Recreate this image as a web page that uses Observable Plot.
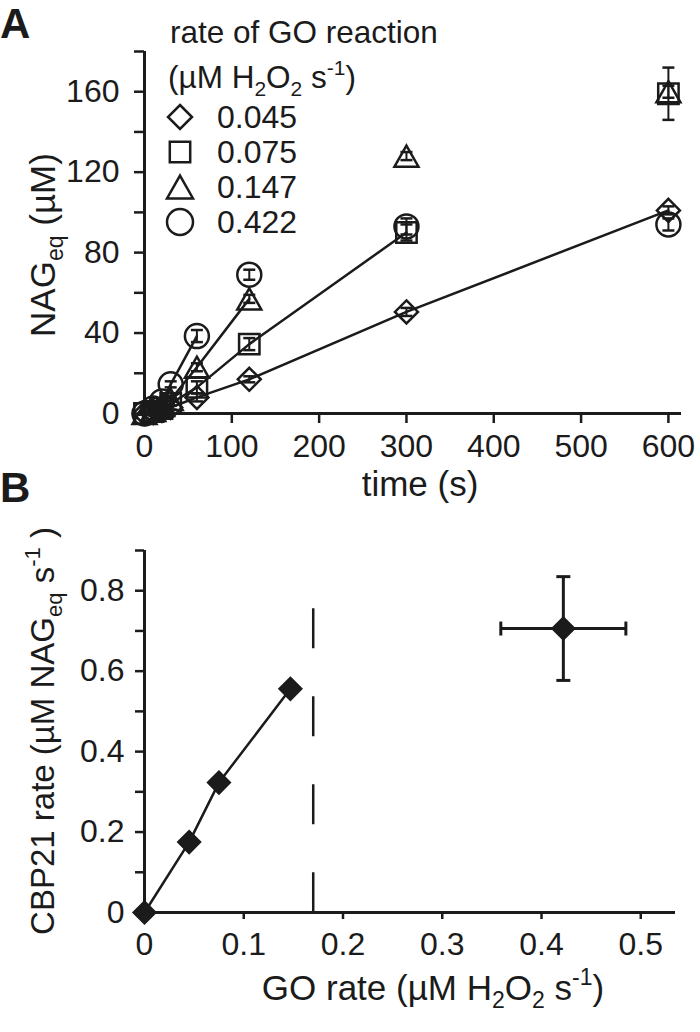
<!DOCTYPE html>
<html><head><meta charset="utf-8">
<script src="https://cdn.jsdelivr.net/npm/d3@7"></script>
<script src="https://cdn.jsdelivr.net/npm/@observablehq/plot@0.6"></script>
<style>
body{margin:0;background:#fff;}
#fig{position:relative;width:700px;height:1032px;font-family:"Liberation Sans",Arial,sans-serif;}
#fig svg{position:absolute;left:0;}
</style></head><body><div id="fig"></div>
<script>
// ---------- Panel A data ----------
const times   = [0, 10, 20, 30, 60, 120, 300, 600];
const goRates = ["0.045", "0.075", "0.147", "0.422"];
const nag045 = [0, 0.5, 1.5, 3, 8, 17, 50.5, 101];
const nag075 = [0, 1, 2.5, 5, 13, 34.5, 90, 159];
const nag147 = [0, 1.5, 4, 7, 23, 57, 128, 160];
const nag422 = [0, 2.5, 6, 14.5, 38.5, 69, 93, 94];
const err045 = [0.5, 0.5, 0.5, 1, 2, 1.5, 2, 2];
const err075 = [0.5, 0.5, 1, 1, 3, 3, 4, 13];
const err147 = [0.5, 0.5, 1, 1, 2, 2, 2, 3];
const err422 = [0.5, 1, 1, 1.5, 3, 2.5, 4, 3];
const fitEnd = [600, 300, 120, 60];   // last time point joined by the line
const yTicksA = [0, 20, 40, 60, 80, 100, 120, 140, 160, 180];
const xTicksA = [0, 100, 200, 300, 400, 500, 600];

// ---------- Panel B data ----------
const goRate  = [0, 0.045, 0.075, 0.147, 0.422];
const cbpRate = [0, 0.175, 0.323, 0.556, 0.706];
const cbpErr  = [0, 0, 0, 0, 0.129];
const goErr   = [0, 0, 0, 0, 0.063];
const fitCount = 4;          // first points joined by the line
const limitGo = 0.17;        // dashed line position
const limitTop = 0.755;
const yTicksB = [0, 1, 2, 3, 4, 5, 6, 7, 8, 9].map(i => i / 10);
const xTicksB = [0, 1, 2, 3, 4, 5].map(i => i / 10);

// ---------- symbols ----------
const rOf = s => Math.sqrt(s / Math.PI);
const symDiamond = {draw(c, s){const r=rOf(s); c.moveTo(0,-r); c.lineTo(r,0); c.lineTo(0,r); c.lineTo(-r,0); c.closePath();}};
const symSquare  = {draw(c, s){const r=rOf(s)*0.85; c.rect(-r,-r,2*r,2*r);}};
const symTriangle= {draw(c, s){const r=rOf(s), h=r*0.88; c.moveTo(0,-h); c.lineTo(r,h); c.lineTo(-r,h); c.closePath();}};
const symCircle  = {draw(c, s){const r=rOf(s); c.moveTo(r,0); c.arc(0,0,r,0,2*Math.PI);}};
const capH = {draw(c, s){const r=rOf(s); c.moveTo(-r,0); c.lineTo(r,0);}};
const capV = {draw(c, s){const r=rOf(s); c.moveTo(0,-r); c.lineTo(0,r);}};
const symbols = [symDiamond, symSquare, symTriangle, symCircle];
const symR = [11.5, 12, 12, 12];
const INK = "#1b1b1b";
const FONT = "'Liberation Sans', Arial, Helvetica, sans-serif";
const TICKFS = 32, TITLEFS = 35;

const seriesVals = [nag045, nag075, nag147, nag422];
const seriesErr  = [err045, err075, err147, err422];

const marksA = [];
seriesVals.forEach((vals, i) => {
  const rows = times.map((t, j) => ({t, v: vals[j], e: seriesErr[i][j]}));
  marksA.push(Plot.line(rows.filter(d => d.t <= fitEnd[i]), {x: "t", y: "v", stroke: INK, strokeWidth: 2.5}));
  marksA.push(Plot.ruleX(rows, {x: "t", y1: d => d.v - d.e, y2: d => d.v + d.e, stroke: INK, strokeWidth: 2}));
  marksA.push(Plot.dot(rows, {x: "t", y: d => d.v - d.e, symbol: capH, r: 6, stroke: INK, strokeWidth: 2.5}));
  marksA.push(Plot.dot(rows, {x: "t", y: d => d.v + d.e, symbol: capH, r: 6, stroke: INK, strokeWidth: 2.5}));
  marksA.push(Plot.dot(rows, {x: "t", y: "v", symbol: symbols[i], r: symR[i], stroke: INK, strokeWidth: 2.5, fill: "none"}));
});

const plotA = Plot.plot({
  width: 700, height: 505,
  marginLeft: 144, marginRight: 19, marginTop: 51, marginBottom: 92,
  x: {domain: [0, 615]},
  y: {domain: [0, 180]},
  style: {fontFamily: FONT, fontSize: TICKFS + "px", background: "transparent", overflow: "visible", color: INK},
  marks: [
    Plot.axisY({ticks: yTicksA, tickSize: 10, tickPadding: 15, strokeWidth: 2.5, fontSize: TICKFS,
      tickFormat: d => d % 40 === 0 ? String(d) : "", label: null}),
    Plot.axisX({ticks: xTicksA, tickSize: 10, tickPadding: 11, strokeWidth: 2.5, fontSize: TICKFS,
      tickFormat: d => String(d), label: null}),
    Plot.ruleX([0], {y1: 0, y2: 180, stroke: INK, strokeWidth: 3}),
    Plot.ruleY([0], {x1: 0, x2: 615, stroke: INK, strokeWidth: 3}),
    ...marksA
  ]
});
plotA.style.top = "0px";

// ---------- Panel B ----------
const rowsB = goRate.map((g, i) => ({g, c: cbpRate[i], ce: cbpErr[i], ge: goErr[i]}));
const errRows = rowsB.filter(d => d.ce > 0 || d.ge > 0);
const plotB = Plot.plot({
  width: 700, height: 552,
  marginLeft: 144, marginRight: 25, marginTop: 70, marginBottom: 120,
  x: {domain: [0, 0.535]},
  y: {domain: [0, 0.9]},
  style: {fontFamily: FONT, fontSize: TICKFS + "px", background: "transparent", overflow: "visible", color: INK},
  marks: [
    Plot.axisY({ticks: yTicksB, tickSize: 9, tickPadding: 11, strokeWidth: 2.5, fontSize: TICKFS,
      tickFormat: d => Math.round(d * 10) % 2 ? "" : (d === 0 ? "0" : d.toFixed(1)), label: null}),
    Plot.axisX({ticks: xTicksB, tickSize: 7, tickPadding: 13, strokeWidth: 2.5, fontSize: TICKFS,
      tickFormat: d => d === 0 ? "0" : d.toFixed(1), label: null}),
    Plot.ruleX([0], {y1: 0, y2: 0.9, stroke: INK, strokeWidth: 3}),
    Plot.ruleY([0], {x1: 0, x2: 0.535, stroke: INK, strokeWidth: 3}),
    Plot.ruleX([limitGo], {y1: limitTop, y2: 0, stroke: INK, strokeWidth: 2.5, strokeDasharray: "40,48"}),
    Plot.line(rowsB.slice(0, fitCount), {x: "g", y: "c", stroke: INK, strokeWidth: 2.5}),
    Plot.ruleX(errRows, {x: "g", y1: d => d.c - d.ce, y2: d => d.c + d.ce, stroke: INK, strokeWidth: 3}),
    Plot.ruleY(errRows, {y: "c", x1: d => d.g - d.ge, x2: d => d.g + d.ge, stroke: INK, strokeWidth: 3}),
    Plot.dot(errRows, {x: "g", y: d => d.c - d.ce, symbol: capH, r: 7, stroke: INK, strokeWidth: 3}),
    Plot.dot(errRows, {x: "g", y: d => d.c + d.ce, symbol: capH, r: 7, stroke: INK, strokeWidth: 3}),
    Plot.dot(errRows, {x: d => d.g - d.ge, y: "c", symbol: capV, r: 7, stroke: INK, strokeWidth: 3}),
    Plot.dot(errRows, {x: d => d.g + d.ge, y: "c", symbol: capV, r: 7, stroke: INK, strokeWidth: 3}),
    Plot.dot(rowsB, {x: "g", y: "c", symbol: symDiamond, r: 11.5, fill: INK, stroke: INK, strokeWidth: 1.5})
  ]
});
plotB.style.top = "480px";

const fig = document.getElementById("fig");
fig.appendChild(plotA);
fig.appendChild(plotB);

// ---------- rich text helpers ----------
function rich(sel, parts, size) {
  let shift = 0;
  parts.forEach(([txt, kind]) => {
    const target = kind === "sub" ? Math.round(size * 0.24) : kind === "sup" ? -Math.round(size * 0.42) : 0;
    const ts = sel.append("tspan").text(txt).attr("dy", target - shift);
    if (kind) ts.attr("font-size", Math.round(size * 0.66));
    shift = target;
  });
  return sel;
}
function addText(svg, x, y, parts, opts = {}) {
  const size = opts.size || TICKFS;
  const t = d3.select(svg).append("text")
    .attr("font-family", FONT).attr("font-size", size).attr("fill", INK)
    .attr("text-anchor", opts.anchor || "start")
    .attr("font-weight", opts.weight || "normal");
  if (opts.rotate) t.attr("transform", `translate(${x},${y}) rotate(${opts.rotate})`);
  else t.attr("x", x).attr("y", y);
  return rich(t, parts, size);
}

// Panel A texts
addText(plotA, 0, 38, [["A"]], {size: 42, weight: "bold"});
addText(plotA, 55, 245, [["NAG"], ["eq", "sub"], [" (\u00b5M)"]], {anchor: "middle", rotate: -90, size: TITLEFS});
addText(plotA, 420, 496, [["time (s)"]], {anchor: "middle", size: TITLEFS});
addText(plotA, 170, 43, [["rate of GO reaction"]], {size: 31.5});
addText(plotA, 168, 88, [["(\u00b5M H"], ["2", "sub"], ["O"], ["2", "sub"], [" s"], ["-1", "sup"], [")"]], {size: 31.5});
const legR = [12, 12, 13, 13];
goRates.forEach((lab, i) => {
  const cy = 117 + 35 * i;
  const p = d3.path(); symbols[i].draw(p, Math.PI * legR[i] * legR[i]);
  d3.select(plotA).append("path").attr("d", p.toString())
    .attr("transform", `translate(180,${cy})`)
    .attr("fill", "none").attr("stroke", INK).attr("stroke-width", 2.5);
  addText(plotA, 217, cy + 11, [[lab]]);
});

// Panel B texts (local y = page y - 480)
addText(plotB, 0, 22, [["B"]], {size: 42, weight: "bold"});
addText(plotB, 54, 251, [["CBP21 rate (\u00b5M NAG"], ["eq", "sub"], [" s"], ["-1", "sup"], [" )"]], {anchor: "middle", rotate: -90, size: 33});
addText(plotB, 433, 520, [["GO rate (\u00b5M H"], ["2", "sub"], ["O"], ["2", "sub"], [" s"], ["-1", "sup"], [")"]], {anchor: "middle", size: TITLEFS});
</script></body></html>
